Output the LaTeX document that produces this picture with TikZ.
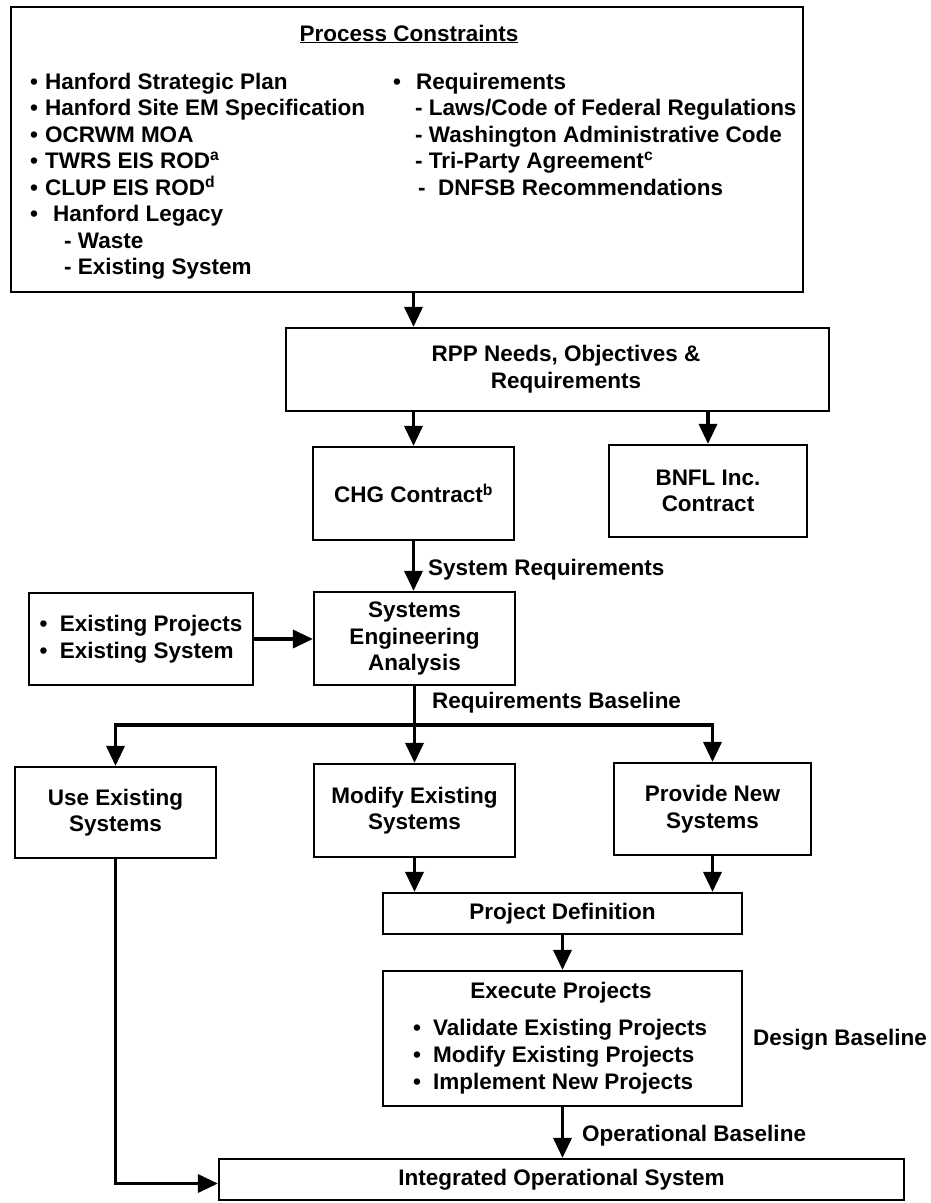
\documentclass[tikz,border=0pt]{standalone}
\usepackage{fontspec}
\setmainfont{Liberation Sans}
\usetikzlibrary{arrows.meta}
\newcommand\myfont{\bfseries\fontsize{22.5}{26.5}\selectfont}
\tikzset{
  bx/.style={draw, line width=2.2pt, inner sep=0pt, align=center, font=\myfont},
  txt/.style={inner sep=0pt, align=center, font=\myfont},
  lbl/.style={inner sep=0pt, anchor=base west, font=\myfont},
  bul/.style={inner sep=0pt, anchor=base, font=\myfont},
  arr/.style={line width=3.5pt, -{Triangle[length=20pt,width=18pt]}},
}
\begin{document}
\begin{tikzpicture}[x=1pt,y=-1pt]
\useasboundingbox (0,0) rectangle (930,1203);
% top box
\node[bx, minimum width=792pt, minimum height=285pt] (top) at (407,149.5) {};
\node[lbl, anchor=base] (title) at (409,41) {\underline{Process Constraints}};
% left column
\node[bul] (b1) at (34,89) {\textbullet};
\node[lbl] (l1) at (45,89) {Hanford Strategic Plan};
\node[bul] (b2) at (34,115.5) {\textbullet};
\node[lbl] (l2) at (45,115.5) {Hanford Site EM Specification};
\node[bul] (b3) at (34,142) {\textbullet};
\node[lbl] (l3) at (45,142) {OCRWM MOA};
\node[bul] (b4) at (34,168.5) {\textbullet};
\node[lbl] (l4) at (45,168.5) {TWRS EIS ROD\textsuperscript{a}};
\node[bul] (b5) at (34,195) {\textbullet};
\node[lbl] (l5) at (45,195) {CLUP EIS ROD\textsuperscript{d}};
\node[bul] (b6) at (34,221.5) {\textbullet};
\node[lbl] (l6) at (53,221.5) {Hanford Legacy};
\node[lbl] (l7) at (64,248) {- Waste};
\node[lbl] (l8) at (64,274.5) {- Existing System};
% right column
\node[bul] (rb1) at (397,89) {\textbullet};
\node[lbl] (r1) at (416,89) {Requirements};
\node[lbl] (r2) at (415,115.5) {- Laws/Code of Federal Regulations};
\node[lbl] (r3) at (415,142) {- Washington Administrative Code};
\node[lbl] (r4) at (415,168.5) {- Tri-Party Agreement\textsuperscript{c}};
\node[lbl] (r5) at (418,195) {-\ \ DNFSB Recommendations};
% RPP
\node[bx, minimum width=543pt, minimum height=83pt] (rpp) at (557.5,369.5) {};
\node[txt] (rppt) at (566,369) {RPP Needs, Objectives \&\\Requirements};
% contracts
\node[bx, minimum width=201pt, minimum height=93pt] (chg) at (413.5,493.5) {CHG Contract\textsuperscript{b}};
\node[bx, minimum width=198pt, minimum height=92pt] (bnfl) at (708,491) {BNFL Inc.\\Contract};
% systems engineering
\node[bx, minimum width=201pt, minimum height=93pt] (sea) at (414.5,638.5) {Systems\\Engineering\\Analysis};
\node[bx, minimum width=224pt, minimum height=92pt, align=left] (exist) at (141,639) {\textbullet\ \ Existing Projects\\\textbullet\ \ Existing System};
% options
\node[bx, minimum width=201pt, minimum height=91pt] (use) at (115.5,812.5) {Use Existing\\Systems};
\node[bx, minimum width=201pt, minimum height=93pt] (mod) at (414.5,810.5) {Modify Existing\\Systems};
\node[bx, minimum width=197pt, minimum height=92pt] (prov) at (712.5,809) {Provide New\\Systems};
% project definition / execution
\node[bx, minimum width=359pt, minimum height=41pt] (pdef) at (562.5,913.5) {Project Definition};
\node[bx, minimum width=359pt, minimum height=135pt] (exec) at (562.5,1038.5) {};
\node[txt] (exect) at (561,993) {Execute Projects};
\node[bul] (eb1) at (417,1035) {\textbullet};
\node[lbl] (e1) at (433,1035) {Validate Existing Projects};
\node[bul] (eb2) at (417,1062) {\textbullet};
\node[lbl] (e2) at (433,1062) {Modify Existing Projects};
\node[bul] (eb3) at (417,1089) {\textbullet};
\node[lbl] (e3) at (433,1089) {Implement New Projects};
\node[bx, minimum width=685pt, minimum height=41pt] (ios) at (561.5,1179.5) {Integrated Operational System};
% labels
\node[lbl] (sysreq) at (428,575) {System Requirements};
\node[lbl] (reqbase) at (432,708) {Requirements Baseline};
\node[lbl] (desbase) at (753,1045) {Design Baseline};
\node[lbl] (opbase) at (582,1141) {Operational Baseline};
% connectors
\coordinate (bus) at (0,725);
\draw[arr] (top.south -| chg.north) -- (rpp.north -| chg.north);
\draw[arr] (rpp.south -| chg.north) -- (chg.north);
\draw[arr] (rpp.south -| bnfl.north) -- (bnfl.north);
\draw[arr] (chg.south) -- (chg.south |- sea.north);
\draw[arr] (exist.east) -- (exist.east -| sea.west);
\draw[arr] (sea.south) -- (mod.north);
\draw[arr] (sea.south |- bus) -| (use.north);
\draw[arr] (sea.south |- bus) -| (prov.north);
\draw[arr] (mod.south) -- (mod.south |- pdef.north);
\draw[arr] (prov.south) -- (prov.south |- pdef.north);
\draw[arr] (pdef.south) -- (exec.north);
\draw[arr] (exec.south) -- (exec.south |- ios.north);
\draw[arr] (use.south) |- ([yshift=-4pt]ios.west);
\end{tikzpicture}
\end{document}
